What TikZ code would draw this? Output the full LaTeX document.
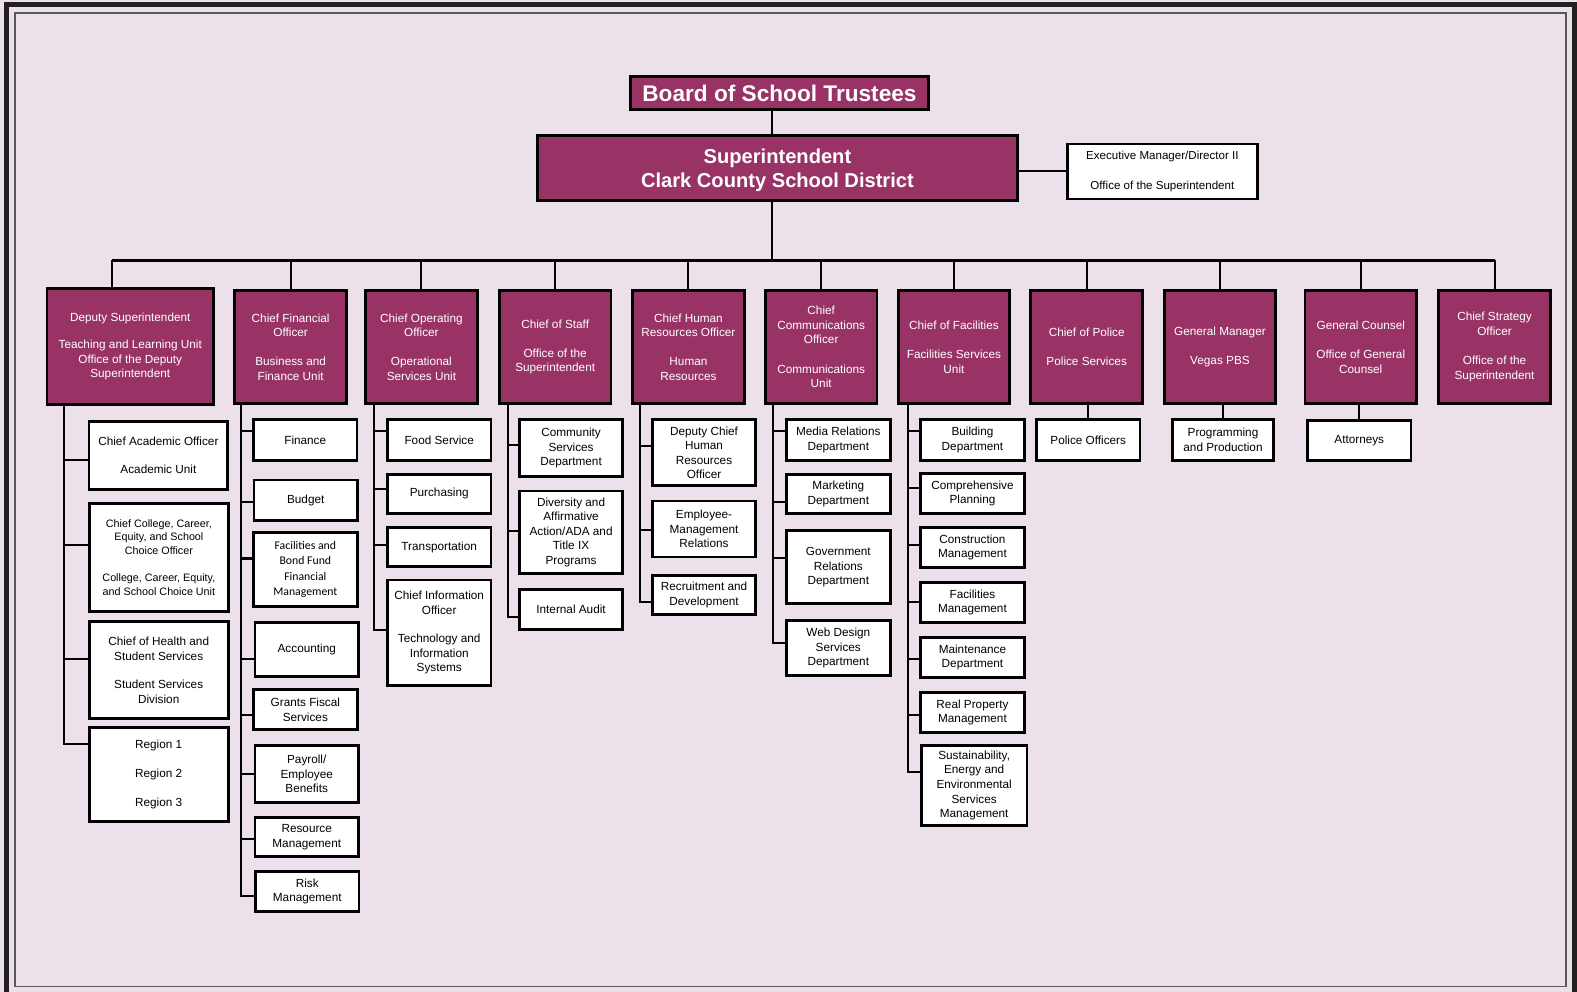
\documentclass[tikz,border=0pt]{standalone}
\usepackage{fontspec}
\setmainfont{Liberation Sans}
\newfontfamily\calibrifont{Carlito}
\usetikzlibrary{positioning}

\definecolor{plum}{RGB}{153,51,102}
\definecolor{pagepink}{RGB}{236,224,234}
\definecolor{framegray}{RGB}{35,31,32}

\tikzset{
    box/.style={draw=black, line width=2.8pt, align=center, inner sep=1pt,
        font=\fontsize{11.7}{14.5}\selectfont},
    headbox/.style={box, fill=plum, text=white,
        minimum width=111pt, minimum height=112pt},
    unitbox/.style={box, fill=white, minimum width=#1},
    unitbox/.default=103pt,
    link/.style={line width=2pt}
}

\begin{document}
\begin{tikzpicture}[x=1pt,y=-1pt]
\useasboundingbox (0,0) rectangle (1568,986);
\clip (0,0) rectangle (1568,986);
\fill[pagepink] (0,0) rectangle (1568,986);
\draw[framegray, line width=5.5pt] (6.5,4.5) rectangle (1565.5,1010);
\draw[black!65, line width=1.5pt] (15,13) rectangle (1557,981);

% board and superintendent
\node[box, fill=plum, text=white, line width=3pt, minimum width=297pt, minimum height=32pt,
    font=\fontsize{22.5}{26}\selectfont\bfseries] (board) at (775,92.5) {Board of School Trustees};
\node[box, fill=plum, text=white, line width=3pt, minimum width=477pt, minimum height=65pt,
    font=\fontsize{20}{24}\selectfont\bfseries] (sup) at (773,167)
    {\raisebox{-3pt}[\height][\depth]{\begin{tabular}{@{}c@{}}Superintendent\\Clark County School District\end{tabular}}};
\node[unitbox=189pt, minimum height=55pt, line width=2.5pt, font=\fontsize{11.5}{14.5}\selectfont,
    right=47pt of sup, yshift=-3.5pt] (exec) {Executive Manager/Director II\\[14.5pt]Office of the Superintendent};

% heads of units
\node[headbox, minimum width=165.5pt, minimum height=114.7pt] (dep) at (129.5,344.5)
    {Deputy Superintendent\\[13pt]Teaching and Learning Unit\\Office of the Deputy\\Superintendent};
\node[headbox] (cfo) at (289,345) {Chief Financial\\Officer\\[14.5pt]Business and\\Finance Unit};
\node[headbox] (coo) at (419,345) {Chief Operating\\Officer\\[14.5pt]Operational\\Services Unit};
\node[headbox] (cos) at (552,345) {Chief of Staff\\[14.5pt]Office of the\\Superintendent};
\node[headbox] (chro) at (684.5,345) {Chief Human\\Resources Officer\\[14.5pt]Human\\Resources};
\node[headbox] (cco) at (816.5,345) {Chief\\Communications\\Officer\\[14.5pt]Communications\\Unit};
\node[headbox] (cfac) at (948.5,345) {Chief of Facilities\\[14.5pt]Facilities Services\\Unit};
\node[headbox] (police) at (1080.5,345) {Chief of Police\\[14.5pt]Police Services};
\node[headbox] (gm) at (1213,345) {General Manager\\[14.5pt]Vegas PBS};
\node[headbox] (gc) at (1353,345) {General Counsel\\[14.5pt]Office of General\\Counsel};
\node[headbox] (cso) at (1486,345) {Chief Strategy\\Officer\\[14.5pt]Office of the\\Superintendent};

% teaching and learning
\node[unitbox=138pt, minimum height=67.3pt] (aca) at (157.5,452.7) {Chief Academic Officer\\[14pt]Academic Unit};
\node[unitbox=138pt, minimum height=108pt, font=\fontsize{10.7}{13.5}\selectfont] (ccc) at (158,554.3)
    {Chief College, Career,\\Equity, and School\\Choice Officer\\[13.5pt]College, Career, Equity,\\and School Choice Unit};
\node[unitbox=138pt, minimum height=96.5pt] (hss) at (157.8,666.3) {Chief of Health and\\Student Services\\[14pt]Student Services\\Division};
\node[unitbox=138pt, minimum height=93pt] (reg) at (157.8,770) {Region 1\\[14.5pt]Region 2\\[14.5pt]Region 3};

% business and finance
\node[unitbox, minimum height=40.8pt] (fin) at (303.5,437.5) {Finance};
\node[unitbox, minimum height=40pt] (bud) at (304,497.2) {Budget};
\node[unitbox, minimum height=74.2pt, font=\calibrifont\fontsize{11.7}{15.3}\selectfont] (fbf) at (303.6,566.3)
    {Facilities and\\Bond Fund\\Financial\\Management};
\node[unitbox, minimum height=53.4pt] (acc) at (305,645.7) {Accounting};
\node[unitbox, minimum height=39.5pt] (gfs) at (303.6,705.6) {Grants Fiscal\\Services};
\node[unitbox, minimum height=56.6pt] (pay) at (305,769.6) {Payroll/\\Employee\\Benefits};
\node[unitbox, minimum height=39pt] (res) at (305,832.4) {Resource\\Management};
\node[unitbox, minimum height=40pt] (risk) at (305.5,886.5) {Risk\\Management};

% operational services
\node[unitbox, minimum height=40pt] (food) at (436.7,437.5) {Food Service};
\node[unitbox, minimum height=39pt] (purch) at (436.7,491) {Purchasing};
\node[unitbox, minimum height=39pt] (trans) at (436.7,544) {Transportation};
\node[unitbox, minimum height=104.8pt] (cio) at (436.7,629) {Chief Information\\Officer\\[14pt]Technology and\\Information\\Systems};

% chief of staff
\node[unitbox, minimum height=56.6pt] (comm) at (567.8,445.8) {Community\\Services\\Department};
\node[unitbox, minimum height=82pt] (div) at (567.8,529.2) {Diversity and\\Affirmative\\Action/ADA and\\Title IX\\Programs};
\node[unitbox, minimum height=39pt] (audit) at (567.8,606) {Internal Audit};

% human resources
\node[unitbox, minimum height=65.6pt] (dchro) at (700,450.3) {Deputy Chief\\Human\\Resources\\Officer};
\node[unitbox, minimum height=55.7pt] (emr) at (700,525.9) {Employee-\\Management\\Relations};
\node[unitbox, minimum height=38.8pt] (rec) at (700,591.6) {Recruitment and\\Development};

% communications
\node[unitbox, minimum height=40pt] (media) at (833.5,437.5) {Media Relations\\Department};
\node[unitbox, minimum height=39pt] (mkt) at (833.5,491) {Marketing\\Department};
\node[unitbox, minimum height=72.3pt] (gov) at (833.5,564) {Government\\Relations\\Department};
\node[unitbox, minimum height=54.7pt] (web) at (833.5,644.6) {Web Design\\Services\\Department};

% facilities
\node[unitbox, minimum height=40pt] (bld) at (966.9,437.5) {Building\\Department};
\node[unitbox, minimum height=40pt] (cplan) at (966.9,490.5) {Comprehensive\\Planning};
\node[unitbox, minimum height=40pt] (cons) at (966.9,544.2) {Construction\\Management};
\node[unitbox, minimum height=40pt] (fmgmt) at (966.9,599) {Facilities\\Management};
\node[unitbox, minimum height=40pt] (maint) at (966.9,653.6) {Maintenance\\Department};
\node[unitbox, minimum height=40pt] (realp) at (966.9,708.3) {Real Property\\Management};
\node[unitbox=105pt, minimum height=79pt] (sust) at (968.6,781)
    {Sustainability,\\Energy and\\Environmental\\Services\\Management};

% single children
\node[unitbox, minimum height=40pt] (polo) at (1082,437.5) {Police Officers};
\node[unitbox=101pt, minimum height=40pt] (prog) at (1216,437.5) {Programming\\and Production};
\node[unitbox, minimum height=40pt] (atty) at (1351.5,438) {Attorneys};

% top links
\coordinate (busL) at (111.5,259);
\coordinate (trunk) at (768,259);
\draw[link] (trunk |- board.south) -- (trunk |- sup.north);
\draw[link] (exec.west) -- (exec.west -| sup.east);
\draw[link] (trunk |- sup.south) -- (trunk);
\draw[link] (busL) -- (busL -| cso.north);
\draw[link] (busL) -- (busL |- dep.north);
\foreach \n in {cfo,coo,cos,chro,cco,cfac,police,gm,gc,cso}
    \draw[link] (\n.north) -- (\n.north |- busL);

% spines
\coordinate (s1) at ([xshift=18pt]dep.south west);
\coordinate (s2) at ([xshift=8pt]cfo.south west);
\coordinate (s3) at ([xshift=10pt]coo.south west);
\coordinate (s4) at ([xshift=10pt]cos.south west);
\coordinate (s5) at ([xshift=9pt]chro.south west);
\coordinate (s6) at ([xshift=9.3pt]cco.south west);
\coordinate (s7) at ([xshift=11pt]cfac.south west);

\foreach \n/\dy in {aca/-4.7, ccc/12, hss/11, reg/30}
    \draw[link] (s1) |- ([yshift=\dy pt]\n.west);
\foreach \n/\dy in {fin/9, bud/-2, fbf/11, acc/-10, gfs/-5, pay/0, res/-2, risk/-4.5}
    \draw[link] (s2) |- ([yshift=\dy pt]\n.west);
\foreach \n/\dy in {food/9, purch/5, trans/2, cio/3}
    \draw[link] (s3) |- ([yshift=\dy pt]\n.west);
\foreach \n/\dy in {comm/3, div/1.5, audit/-7}
    \draw[link] (s4) |- ([yshift=\dy pt]\n.west);
\foreach \n/\dy in {dchro/7, emr/-1, rec/-7}
    \draw[link] (s5) |- ([yshift=\dy pt]\n.west);
\foreach \n/\dy in {media/9, mkt/-8, gov/9, web/5}
    \draw[link] (s6) |- ([yshift=\dy pt]\n.west);
\foreach \n/\dy in {bld/9, cplan/5.6, cons/2, fmgmt/0.7, maint/-1.7, realp/-3, sust/13}
    \draw[link] (s7) |- ([yshift=\dy pt]\n.west);

\draw[link] (polo.north) -- (polo.north |- police.south);
\draw[link] (prog.north) -- (prog.north |- gm.south);
\draw[link] (atty.north) -- (atty.north |- gc.south);
\end{tikzpicture}
\end{document}
